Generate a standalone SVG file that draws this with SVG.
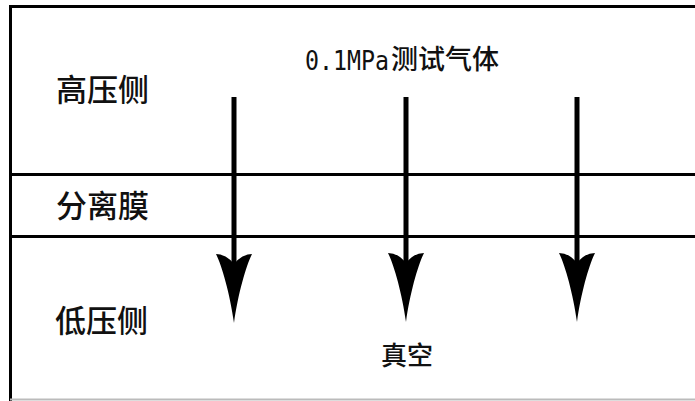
<svg xmlns="http://www.w3.org/2000/svg" width="695" height="401" viewBox="0 0 695 401">
  <style>
    .line { stroke: #000; stroke-width: 3; fill: none; }
    .lbl { font-family: "Noto Sans CJK SC", "Noto Sans", sans-serif; font-size: 31px; font-weight: 500; fill: #111; }
    .sm { font-family: "Noto Sans CJK SC", "Noto Sans", sans-serif; font-size: 27px; font-weight: 500; fill: #111; }
    .lat { font-family: "DejaVu Sans Mono", monospace; font-size: 26px; fill: #111; }
    .vac { font-family: "Noto Sans CJK SC", "Noto Sans", sans-serif; font-size: 26px; font-weight: 500; fill: #111; }
    .shaft { stroke: #000; stroke-width: 5; }
    .head { fill: #000; }
  </style>
  <defs>
    <path id="ah" d="M0,10 Q-8,0 -18,0 C-12,12 -4,40 0,69 C4,40 12,12 18,0 Q8,0 0,10 Z"/>
  </defs>
  <rect width="695" height="401" fill="#fff"/>
  <g id="frame">
    <line class="line" x1="9" y1="6.5" x2="695" y2="6.5"/>
    <line class="line" x1="10.5" y1="5" x2="10.5" y2="401"/>
    <line class="line" x1="10" y1="174.5" x2="695" y2="174.5"/>
    <line class="line" x1="10" y1="236.5" x2="695" y2="236.5"/>
    <line x1="10" y1="399.5" x2="695" y2="399.5" stroke="#bbb" stroke-width="2"/>
  </g>
  <g id="high-side">
    <text class="lbl" x="56" y="101">高压侧</text>
  </g>
  <g id="membrane">
    <text class="lbl" x="56" y="217">分离膜</text>
  </g>
  <g id="low-side">
    <text class="lbl" x="55" y="332">低压侧</text>
  </g>
  <g id="test-gas">
    <text class="lat" x="305" y="70" textLength="84" lengthAdjust="spacingAndGlyphs">0.1MPa</text>
    <text class="sm" x="391" y="69">测试气体</text>
  </g>
  <g id="vacuum">
    <text class="vac" x="381" y="365">真空</text>
  </g>
  <g id="connectors">
    <g>
      <line class="shaft" x1="234" y1="97" x2="234" y2="264"/>
      <use href="#ah" class="head" x="234" y="254"/>
    </g>
    <g>
      <line class="shaft" x1="406" y1="97" x2="406" y2="264"/>
      <use href="#ah" class="head" x="406" y="253"/>
    </g>
    <g>
      <line class="shaft" x1="577" y1="97" x2="577" y2="264"/>
      <use href="#ah" class="head" x="577" y="253"/>
    </g>
  </g>
</svg>
